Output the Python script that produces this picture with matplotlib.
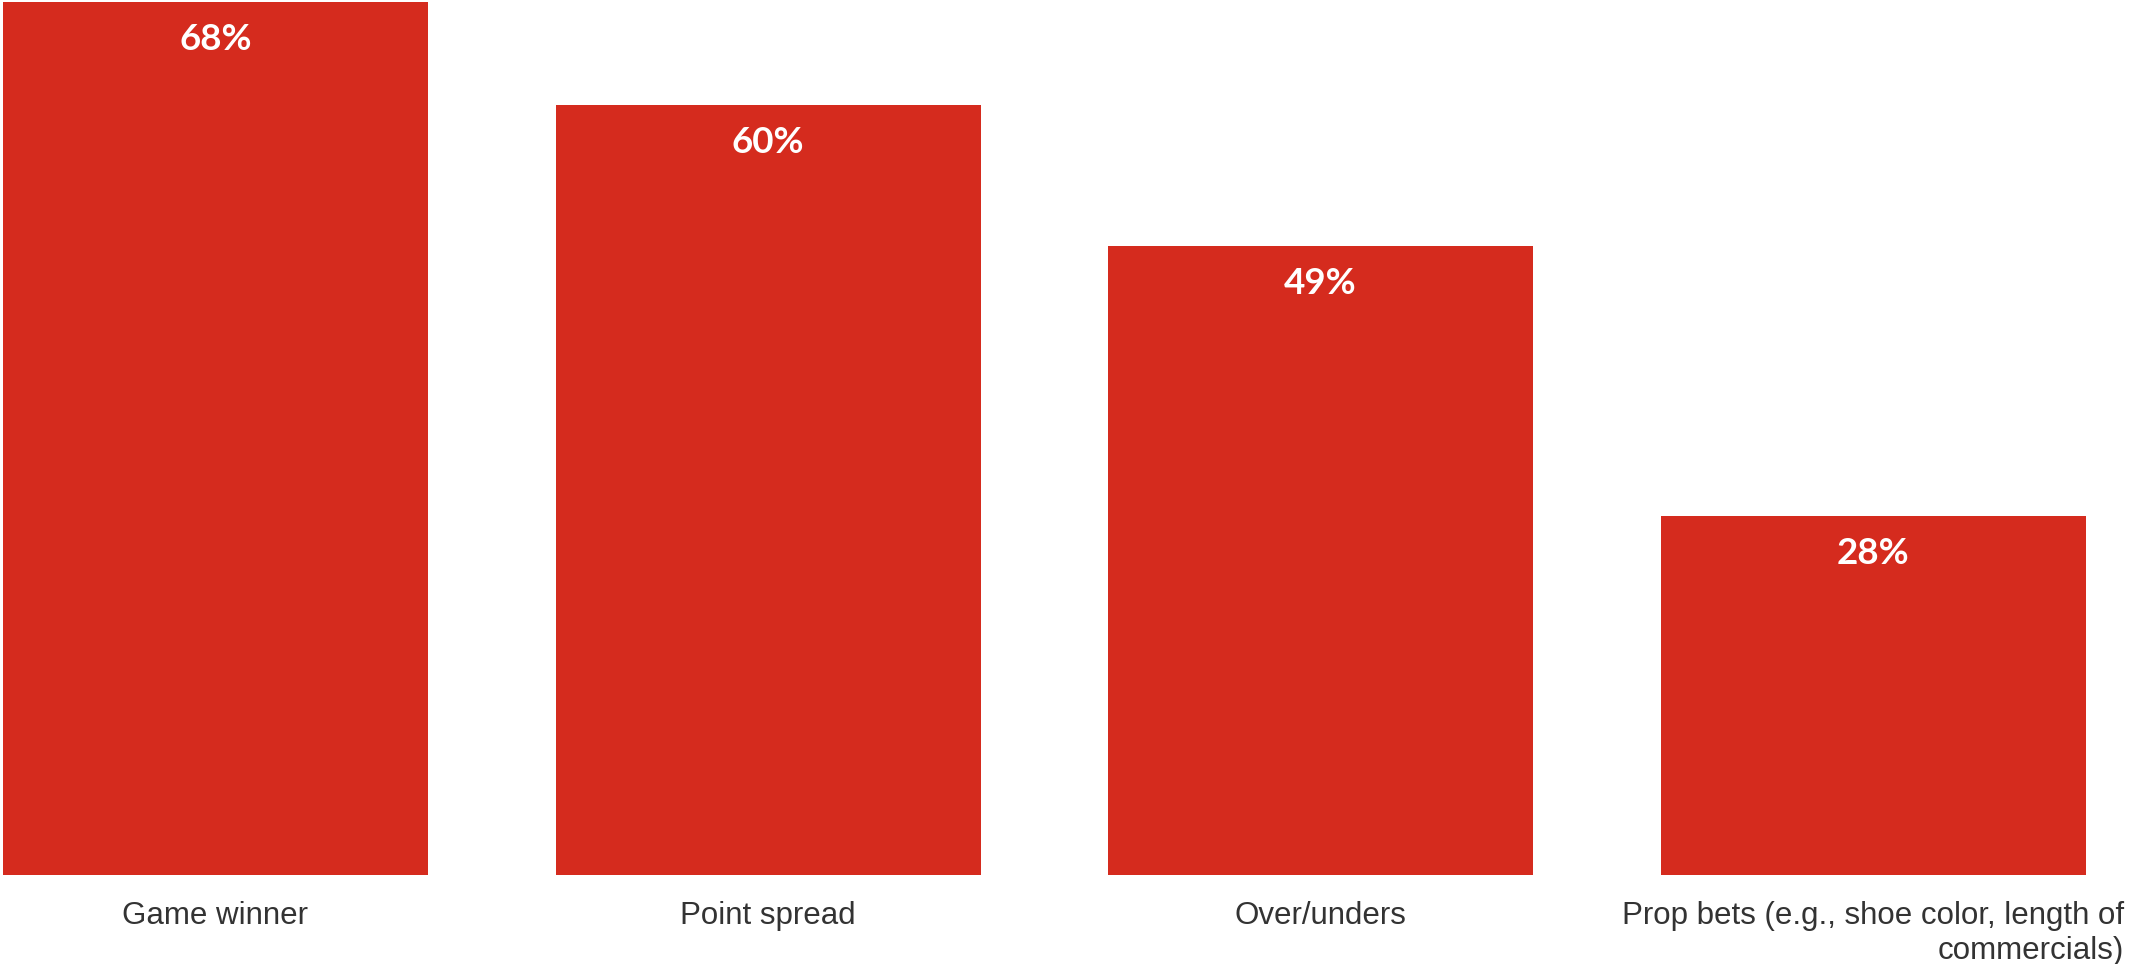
import matplotlib
matplotlib.use("Agg")
import matplotlib.pyplot as plt

categories = ["Game winner", "Point spread", "Over/unders",
              "Prop bets (e.g., shoe color, length of\ncommercials)"]
values = [68, 60, 49, 28]
value_labels = ["68%", "60%", "49%", "28%"]

W, H = 2133, 964
dpi = 100
fig = plt.figure(figsize=(W / dpi, H / dpi), dpi=dpi)
bottom_px = 875
top_px = 2
ax = fig.add_axes([0, (H - bottom_px) / H, 1, (bottom_px - top_px) / H])

step = 552.5
bw = 425 / step
x = list(range(len(categories)))
bar_color = "#D52B1E"
ax.bar(x, values, width=bw, color=bar_color)

ax.set_ylim(0, max(values))
left = -bw / 2 - 3 / step
ax.set_xlim(left, left + W / step)
ax.axis("off")

for xi, v, lab in zip(x, values, value_labels):
    ax.annotate(lab, (xi, v), xytext=(0, -38 * 72 / dpi), textcoords="offset points",
                ha="center", va="center", color="white", fontsize=26.5,
                fontweight="bold", family=["Lato", "DejaVu Sans"])

for xi, cat in zip(x, categories):
    ax.annotate(cat, (xi, 0), xytext=(0, -26 * 72 / dpi), textcoords="offset points",
                ha="center", va="top", multialignment="right", color="#333333",
                fontsize=22.5, family=["Liberation Sans", "DejaVu Sans"],
                linespacing=1.2, annotation_clip=False)

fig.savefig("out.png", dpi=dpi, facecolor="white")
